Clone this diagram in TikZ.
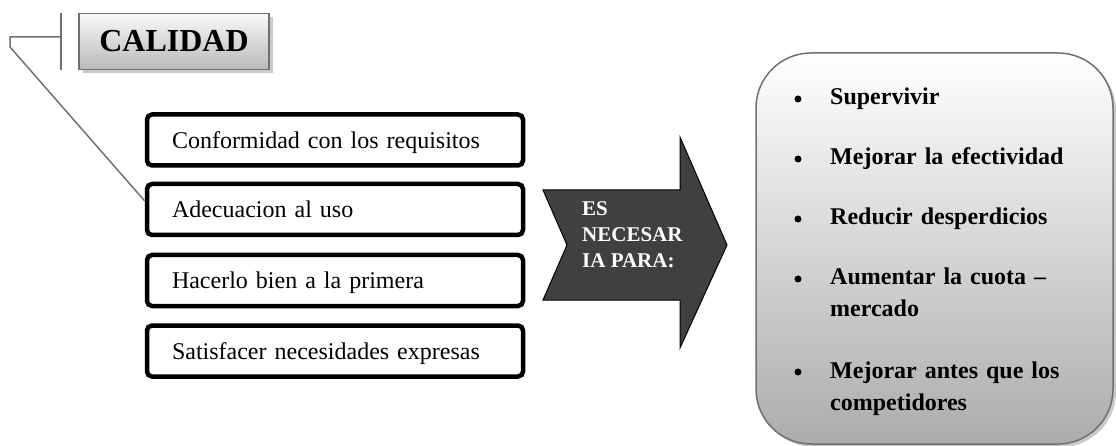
\documentclass[tikz,border=0pt]{standalone}
\usepackage{fontspec}
\setmainfont{Liberation Serif}
\usetikzlibrary{shadows}
\definecolor{arrowgray}{HTML}{404040}
\definecolor{linegray}{HTML}{707070}

\begin{document}
\begin{tikzpicture}[x=1pt,y=-1pt,
        reqbox/.style={draw,line width=4.5pt,rounded corners=5pt,fill=white,minimum width=376pt,minimum height=51pt,
            text width=326pt,inner xsep=24.75pt,text height=17pt,text depth=0pt,align=left,font=\fontsize{24}{28}\selectfont},
        goal/.style={anchor=base west,text width=265pt,align=left,inner sep=0pt,font=\fontsize{24}{32}\selectfont\bfseries},
        dot/.style={circle,fill=black,inner sep=0pt,minimum size=7pt}]
                        \useasboundingbox (0,0) rectangle (1116,446);
                        \node[draw=linegray,line width=1.5pt,top color=gray!5,bottom color=gray!55,minimum width=190pt,minimum height=56pt,
                            font=\fontsize{32}{36}\selectfont\bfseries,drop shadow={shadow xshift=4pt,shadow yshift=-4pt,fill=gray!70,opacity=0.6}]
                            (calidad) at (174,41.5) {CALIDAD};
                        \coordinate (bartop) at (61,13);
                        \coordinate (barbot) at (61,70);
                        \coordinate (barmid) at (61,37);
                        \coordinate (elbow) at (10,37);
                        \coordinate (knee) at (10,47);
                        \draw[linegray,line width=1.5pt] (bartop) -- (barbot);
                        \foreach \y/\name/\txt in {140/conformidad/Conformidad con los requisitos,209.5/adecuacion/Adecuacion al uso,
                            280.5/primera/Hacerlo bien a la primera,351/necesidades/Satisfacer necesidades expresas}
                            \node[reqbox] (\name) at (335,\y) {\txt};
                        \draw[linegray,line width=1.5pt] (barmid) -- (elbow) -- (knee) -- ([yshift=8.5pt]adecuacion.west);
                        \filldraw[fill=arrowgray,draw=black,line width=1pt] (543,190) -- (567,245) -- (543,300) -- (680,300) -- (680,348)
                            -- (727,245) -- (680,137) -- (680,190) -- cycle;
                        \node[anchor=north west,align=left,inner sep=0pt,text=white,font=\fontsize{21}{26}\selectfont\bfseries]
                            (necesaria) at (582,201) {ES\\NECESAR\\IA PARA:};
                        \node[draw=linegray,line width=1.5pt,rounded corners=55pt,top color=white,bottom color=gray!65,minimum width=357pt,
                            minimum height=391pt,drop shadow={shadow xshift=3pt,shadow yshift=-3pt,fill=gray!70,opacity=0.6}]
                            (objetivos) at (934.5,248.5) {};
                        \foreach \y/\name/\txt in {105/supervivir/Supervivir,165/efectividad/Mejorar la efectividad,225/desperdicios/Reducir desperdicios,
                            285/cuota/{Aumentar la cuota –\\mercado},378/antes/{Mejorar antes que los\\competidores}}{
                            \node[dot] (\name-dot) at (798,\y-6) {};
                            \node[goal] (\name) at (830,\y) {\txt};
                        }
                    \end{tikzpicture}
\end{document}
